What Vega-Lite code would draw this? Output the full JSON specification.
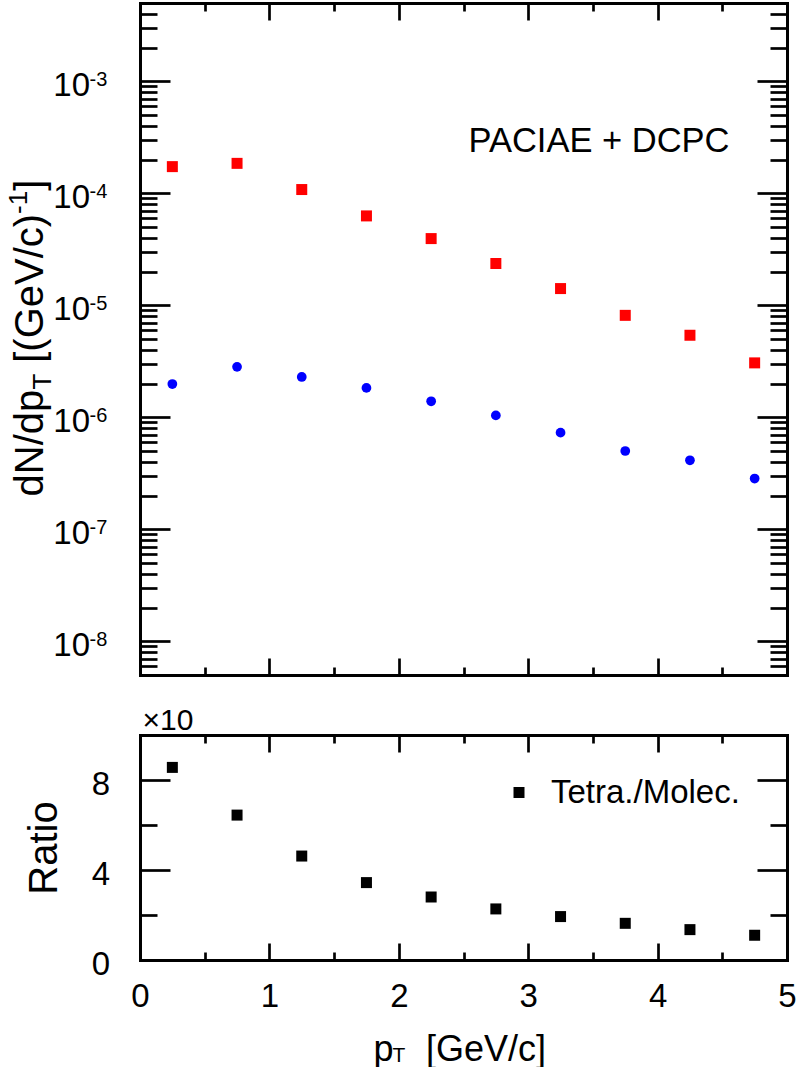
{
  "$schema": "https://vega.github.io/schema/vega-lite/v6.json",
  "width": 647,
  "height": 957,
  "autosize": {"type": "none"},
  "padding": {"left": 140, "top": 3, "right": 9, "bottom": 107},
  "data": {"values": [
    {"pt": 0.25, "tetra": 1.73e-4, "molec": 1.98e-6, "ratio": 85.6},
    {"pt": 0.75, "tetra": 1.85e-4, "molec": 2.82e-6, "ratio": 64.4},
    {"pt": 1.25, "tetra": 1.08e-4, "molec": 2.29e-6, "ratio": 46.2},
    {"pt": 1.75, "tetra": 6.28e-5, "molec": 1.83e-6, "ratio": 34.4},
    {"pt": 2.25, "tetra": 3.94e-5, "molec": 1.39e-6, "ratio": 28.0},
    {"pt": 2.75, "tetra": 2.36e-5, "molec": 1.04e-6, "ratio": 22.7},
    {"pt": 3.25, "tetra": 1.41e-5, "molec": 7.29e-7, "ratio": 19.3},
    {"pt": 3.75, "tetra": 8.13e-6, "molec": 5.00e-7, "ratio": 16.3},
    {"pt": 4.25, "tetra": 5.40e-6, "molec": 4.13e-7, "ratio": 13.5},
    {"pt": 4.75, "tetra": 3.06e-6, "molec": 2.84e-7, "ratio": 11.0}
  ]},
  "resolve": {"scale": {"y": "independent"}, "axis": {"x": "independent", "y": "independent"}},
  "layer": [
    {
      "mark": {"type": "square", "size": 121, "color": "#ff0000", "opacity": 1},
      "encoding": {
        "x": {"field": "pt", "type": "quantitative", "scale": {"domain": [0, 5], "nice": false, "zero": false},
          "axis": {"orient": "top", "values": [0,0.5,1,1.5,2,2.5,3,3.5,4,4.5,5], "tickSize": {"condition": {"test": "datum.value % 1 == 0", "value": -17}, "value": -8}, "labels": false, "title": null}},
        "y": {"field": "tetra", "type": "quantitative", "scale": {"type": "log", "domain": [5e-9, 0.005], "range": [672, 0], "nice": false},
          "axis": {"orient": "left", "values": [6e-9,7e-9,8e-9,9e-9,1e-8,2e-8,3e-8,4e-8,5e-8,6e-8,7e-8,8e-8,9e-8,1e-7,2e-7,3e-7,4e-7,5e-7,6e-7,7e-7,8e-7,9e-7,1e-6,2e-6,3e-6,4e-6,5e-6,6e-6,7e-6,8e-6,9e-6,1e-5,2e-5,3e-5,4e-5,5e-5,6e-5,7e-5,8e-5,9e-5,1e-4,2e-4,3e-4,4e-4,5e-4,6e-4,7e-4,8e-4,9e-4,1e-3,2e-3,3e-3,4e-3],
            "tickSize": {"condition": {"test": "abs(log(datum.value)/LN10 - round(log(datum.value)/LN10)) < 0.001", "value": -30}, "value": -17},
            "labelExpr": "abs(log(datum.value)/LN10 - round(log(datum.value)/LN10)) < 0.001 ? '10' : ''",
            "labelFontSize": 33, "labelPadding": 80.5, "labelBaseline": "middle", "labelOffset": 4, "labelAlign": "right",
            "title": "dN/dp", "titleX": -98, "titleY": 493, "titleAngle": -90, "titleAlign": "left", "titleBaseline": "alphabetic", "titleFontSize": 40}}
      }
    },
    {
      "mark": {"type": "circle", "size": 95, "color": "#0000ff", "opacity": 1},
      "encoding": {
        "x": {"field": "pt", "type": "quantitative", "scale": {"domain": [0, 5], "nice": false, "zero": false},
          "axis": {"orient": "bottom", "offset": -285, "values": [0,0.5,1,1.5,2,2.5,3,3.5,4,4.5,5], "tickSize": {"condition": {"test": "datum.value % 1 == 0", "value": -17}, "value": -8}, "labels": false, "title": null}},
        "y": {"field": "molec", "type": "quantitative", "scale": {"type": "log", "domain": [5e-9, 0.005], "range": [672, 0], "nice": false},
          "axis": {"orient": "right", "values": [6e-9,7e-9,8e-9,9e-9,1e-8,2e-8,3e-8,4e-8,5e-8,6e-8,7e-8,8e-8,9e-8,1e-7,2e-7,3e-7,4e-7,5e-7,6e-7,7e-7,8e-7,9e-7,1e-6,2e-6,3e-6,4e-6,5e-6,6e-6,7e-6,8e-6,9e-6,1e-5,2e-5,3e-5,4e-5,5e-5,6e-5,7e-5,8e-5,9e-5,1e-4,2e-4,3e-4,4e-4,5e-4,6e-4,7e-4,8e-4,9e-4,1e-3,2e-3,3e-3,4e-3],
            "tickSize": {"condition": {"test": "abs(log(datum.value)/LN10 - round(log(datum.value)/LN10)) < 0.001", "value": -30}, "value": -17},
            "labels": false,
            "title": "T", "titleX": -737, "titleY": 386, "titleAngle": -90, "titleAlign": "left", "titleBaseline": "alphabetic", "titleFontSize": 26}}
      }
    },
    {
      "mark": {"type": "square", "size": 121, "opacity": 0},
      "encoding": {
        "x": {"field": "pt", "type": "quantitative", "scale": {"domain": [0, 5], "nice": false, "zero": false},
          "axis": {"orient": "bottom", "ticks": false, "labels": false, "domain": false,
            "title": "[GeV/c]", "titleX": 285.5, "titleY": 100, "titleAngle": 0, "titleAlign": "left", "titleBaseline": "alphabetic", "titleFontSize": 36}},
        "y": {"field": "tetra", "type": "quantitative", "scale": {"type": "log", "domain": [5e-9, 0.005], "range": [672, 0], "nice": false},
          "axis": {"orient": "left", "values": [1e-8, 1e-7, 1e-6, 1e-5, 1e-4, 1e-3], "ticks": false, "domain": false,
            "labelExpr": "'' + round(log(datum.value)/LN10)", "labelAlign": "left", "labelFontSize": 20, "labelPadding": 51, "labelBaseline": "alphabetic", "labelOffset": 4,
            "title": "[(GeV/c)", "titleX": -98, "titleY": 359.3, "titleAngle": -90, "titleAlign": "left", "titleBaseline": "alphabetic", "titleFontSize": 40}}
      }
    },
    {
      "mark": {"type": "square", "size": 121, "opacity": 0},
      "encoding": {
        "x": {"field": "pt", "type": "quantitative", "scale": {"domain": [0, 5], "nice": false, "zero": false}, "axis": null},
        "y": {"field": "tetra", "type": "quantitative", "scale": {"type": "log", "domain": [5e-9, 0.005], "range": [672, 0], "nice": false},
          "axis": {"orient": "left", "ticks": false, "labels": false, "domain": false,
            "title": "-1", "titleX": -114, "titleY": 210.4, "titleAngle": -90, "titleAlign": "left", "titleBaseline": "alphabetic", "titleFontSize": 26}}
      }
    },
    {
      "mark": {"type": "square", "size": 121, "opacity": 0},
      "encoding": {
        "x": {"field": "pt", "type": "quantitative", "scale": {"domain": [0, 5], "nice": false, "zero": false}, "axis": null},
        "y": {"field": "tetra", "type": "quantitative", "scale": {"type": "log", "domain": [5e-9, 0.005], "range": [672, 0], "nice": false},
          "axis": {"orient": "left", "ticks": false, "labels": false, "domain": false,
            "title": "]", "titleX": -98, "titleY": 187.3, "titleAngle": -90, "titleAlign": "left", "titleBaseline": "alphabetic", "titleFontSize": 40}}
      }
    },
    {
      "mark": {"type": "square", "size": 121, "opacity": 1, "filled": true},
      "encoding": {
        "x": {"field": "pt", "type": "quantitative", "scale": {"domain": [0, 5], "nice": false, "zero": false},
          "axis": {"orient": "bottom", "values": [0,0.5,1,1.5,2,2.5,3,3.5,4,4.5,5], "tickSize": {"condition": {"test": "datum.value % 1 == 0", "value": -17}, "value": -8},
            "labelExpr": "datum.value % 1 == 0 ? '' + datum.value : ''", "labelFontSize": 33, "labelPadding": 63, "labelBaseline": "alphabetic", "labelAlign": "center",
            "title": "p", "titleX": 233, "titleY": 100, "titleAngle": 0, "titleAlign": "left", "titleBaseline": "alphabetic", "titleFontSize": 36}},
        "y": {"field": "ratio", "type": "quantitative", "scale": {"type": "linear", "domain": [0, 100], "range": [957, 732], "nice": false, "zero": false},
          "axis": {"orient": "left", "values": [0, 20, 40, 60, 80, 100], "tickSize": {"condition": {"test": "datum.value % 40 == 0", "value": -30}, "value": -17},
            "labelExpr": "datum.value % 40 == 0 ? '' + datum.value / 10 : ''", "labelFontSize": 33, "labelPadding": 60.5, "labelBaseline": "middle", "labelOffset": 4, "labelAlign": "right",
            "title": "Ratio", "titleX": -84, "titleY": 844.5, "titleAngle": -90, "titleAlign": "center", "titleBaseline": "alphabetic", "titleFontSize": 40}},
        "color": {"datum": "Tetra./Molec.", "type": "nominal", "scale": {"range": ["#000000"]},
          "legend": {"orient": "none", "legendX": 362.5, "legendY": 773, "title": null, "symbolType": "square", "symbolSize": 121, "symbolStrokeWidth": 0, "symbolOpacity": 1, "labelFontSize": 33, "labelOffset": 15.5, "labelLimit": 0, "padding": 0, "labelColor": "#000000", "labelFont": "Liberation Sans"}}
      }
    },
    {
      "mark": {"type": "square", "size": 121, "opacity": 0},
      "encoding": {
        "x": {"field": "pt", "type": "quantitative", "scale": {"domain": [0, 5], "nice": false, "zero": false},
          "axis": {"orient": "top", "offset": -732, "values": [0,0.5,1,1.5,2,2.5,3,3.5,4,4.5,5], "tickSize": {"condition": {"test": "datum.value % 1 == 0", "value": -17}, "value": -8}, "labels": false,
            "title": "T", "titleX": 252, "titleY": 326, "titleAngle": 0, "titleAlign": "left", "titleBaseline": "alphabetic", "titleFontSize": 21}},
        "y": {"field": "ratio", "type": "quantitative", "scale": {"type": "linear", "domain": [0, 100], "range": [957, 732], "nice": false, "zero": false},
          "axis": {"orient": "right", "values": [0, 20, 40, 60, 80, 100], "tickSize": {"condition": {"test": "datum.value % 40 == 0", "value": -30}, "value": -17}, "labels": false,
            "title": "×10", "titleX": -645, "titleY": 726, "titleAngle": 0, "titleAlign": "left", "titleBaseline": "alphabetic", "titleFontSize": 30}}
      }
    },
    {
      "data": {"values": [{"label": "PACIAE + DCPC"}]},
      "mark": {"type": "text", "fontSize": 34.5, "align": "center", "baseline": "alphabetic", "color": "#000000"},
      "encoding": {
        "text": {"field": "label", "type": "nominal"},
        "x": {"datum": 3.547, "type": "quantitative", "scale": {"domain": [0, 5], "nice": false, "zero": false}, "axis": null},
        "y": {"datum": 0.000235, "type": "quantitative", "scale": {"type": "log", "domain": [5e-9, 0.005], "range": [672, 0], "nice": false}, "axis": null}
      }
    }
  ],
  "config": {
    "view": {"stroke": null},
    "font": "Liberation Sans",
    "axis": {"domainColor": "#000000", "domainWidth": 3, "domainCap": "square", "tickColor": "#000000", "tickWidth": 2.7, "labelColor": "#000000", "titleColor": "#000000", "titleFontWeight": "normal", "labelFont": "Liberation Sans", "titleFont": "Liberation Sans", "grid": false, "labelFlush": false, "labelOverlap": false},
    "legend": {"labelFont": "Liberation Sans"}
  }
}
